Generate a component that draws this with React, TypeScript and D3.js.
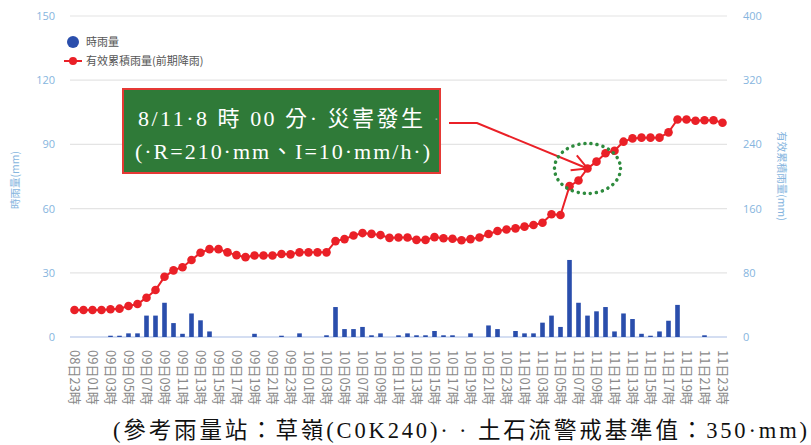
import React from "react";
import * as d3 from "d3";

// ---- data ----
const dayStart = 8;
const hourStart = 23;
const categories: string[] = Array.from({ length: 73 }, (_, i) => {
  const total = hourStart + i;
  const d = dayStart + Math.floor(total / 24);
  const h = total % 24;
  return `${String(d).padStart(2, "0")}日${String(h).padStart(2, "0")}時`;
});

const hourlyRain: number[] = [
  0, 0, 0, 0, 0.6, 0.6, 1.7, 1.7, 10, 10, 16, 6.5, 1.5, 11, 7.8, 2.6,
  0, 0, 0, 0, 1.5, 0, 0, 0.6, 0, 1.7, 0, 0, 0.8, 14, 3.7, 3.7, 4.7, 0.8,
  1.7, 0, 0.8, 1.7, 0.8, 0.8, 2.8, 0.8, 0.8, 0, 1.7, 0, 5.4, 3.7, 0, 2.8,
  1.7, 1.7, 6.7, 10, 4.7, 36, 16, 10, 12, 14, 2.6, 11, 8.4, 1.5, 0.6, 2.6,
  7.6, 15, 0, 0, 0.8, 0, 0,
];

const effectiveCum: number[] = [
  33.6, 33.6, 33.6, 33.6, 34.5, 35.3, 38.6, 41.1, 49, 58.6, 75, 83, 87, 96,
  105, 109.5, 109.5, 105.5, 102, 99.5, 101.5, 101.5, 101.5, 103.5, 103,
  105.5, 105.5, 105.5, 105.5, 119.5, 122, 126.5, 129.5, 128.5, 127, 123.5,
  124, 124, 121, 121, 124.5, 123, 122.5, 120.5, 122, 124, 128.3, 132, 134,
  135.4, 137.5, 139.6, 142.4, 152.9, 152, 188, 195, 210, 218.5, 229, 232,
  243.4, 247.5, 248.4, 248.4, 248.4, 255, 271, 271, 269.5, 270, 270, 267,
];

const leftTicks: number[] = [0, 30, 60, 90, 120, 150];
const rightTicks: number[] = [0, 80, 160, 240, 320, 400];

const legendLabels = ["時雨量", "有效累積雨量(前期降雨)"];
const leftTitle = "時雨量(mm)";
const rightTitle = "有效累積雨量(mm)";
const noteLine1 = "8/11·8 時 00 分· 災害發生";
const noteLine2 = "(·R=210·mm、I=10·mm/h·)";
const caption = "(參考雨量站：草嶺(C0K240)·  · 土石流警戒基準值：350·mm)";
const eventIndex = 57;

const W = 811;
const H = 445;
const plot = { left: 70, right: 727, top: 16, bottom: 337 };

const sans = "'Open Sans', 'Noto Sans CJK TC', sans-serif";
const cjk = "'Noto Sans CJK TC', 'Noto Sans', sans-serif";
const serif = "'Liberation Serif', 'DejaVu Serif', 'Noto Sans CJK TC', serif";

export default function App() {
  const x = d3
    .scaleBand<string>()
    .domain(categories)
    .range([plot.left, plot.right])
    .paddingInner(0)
    .paddingOuter(0);
  const yL = d3.scaleLinear().domain([0, 150]).range([plot.bottom, plot.top]);
  const yR = d3.scaleLinear().domain([0, 400]).range([plot.bottom, plot.top]);
  const cx = (c: string) => (x(c) as number) + x.bandwidth() / 2;
  const barW = 4.6;

  const line = d3
    .line<number>()
    .x((_, i) => cx(categories[i]))
    .y((d) => yR(d));

  const ex = cx(categories[eventIndex]);
  const ey = yR(effectiveCum[eventIndex]);

  const tip = [ex, ey];
  const start = [449, 123];
  const knee = [477, 123];
  const ang = Math.atan2(tip[1] - knee[1], tip[0] - knee[0]);
  const ah = 17;
  const w1 = [tip[0] - ah * Math.cos(ang - 0.5), tip[1] - ah * Math.sin(ang - 0.5)];
  const w2 = [tip[0] - ah * Math.cos(ang + 0.5), tip[1] - ah * Math.sin(ang + 0.5)];

  return (
    <svg
      width={W}
      height={H}
      style={{ position: "absolute", left: 0, top: 0, background: "#fff" }}
    >
      <rect x={0} y={0} width={W} height={H} fill="#fff" />
      {/* grid */}
      {leftTicks.map((t) => (
        <line
          key={"g" + t}
          x1={plot.left}
          x2={plot.right}
          y1={yL(t)}
          y2={yL(t)}
          stroke={t === 0 ? "#a9bde6" : "#e4e4e4"}
          strokeWidth={1.2}
        />
      ))}
      {/* left ticks */}
      {leftTicks.map((t) => (
        <text
          key={"l" + t}
          x={55}
          y={yL(t) + 4}
          textAnchor="end"
          fontFamily={sans}
          fontSize={11}
          fill="#86b5de"
        >
          {t}
        </text>
      ))}
      {rightTicks.map((t) => (
        <text
          key={"r" + t}
          x={743}
          y={yR(t) + 4}
          textAnchor="start"
          fontFamily={sans}
          fontSize={11}
          fill="#86b5de"
        >
          {t}
        </text>
      ))}
      <text
        transform={`translate(19,180) rotate(-90)`}
        textAnchor="middle"
        fontFamily={cjk}
        fontSize={10.5}
        fill="#86b5de"
      >
        {leftTitle}
      </text>
      <text
        transform={`translate(778,176) rotate(90)`}
        textAnchor="middle"
        fontFamily={cjk}
        fontSize={10.5}
        fill="#86b5de"
      >
        {rightTitle}
      </text>

      {/* bars */}
      {hourlyRain.map((v, i) =>
        v > 0 ? (
          <rect
            key={"b" + i}
            x={cx(categories[i]) - barW / 2}
            y={yL(v)}
            width={barW}
            height={yL(0) - yL(v)}
            fill="#2a4eac"
          />
        ) : null
      )}

      {/* line */}
      <path d={line(effectiveCum) || ""} fill="none" stroke="#ea2027" strokeWidth={2} />
      {effectiveCum.map((v, i) => (
        <circle key={"p" + i} cx={cx(categories[i])} cy={yR(v)} r={4.3} fill="#ea2027" />
      ))}

      {/* x labels */}
      {categories.map((c, i) =>
        i % 2 === 0 ? (
          <text
            key={"x" + i}
            transform={`translate(${cx(c) - 4.5},350) rotate(90)`}
            textAnchor="start"
            fontFamily={cjk}
            fontSize={13}
            fill="#8a8a8a"
          >
            {c}
          </text>
        ) : null
      )}

      {/* legend */}
      <circle cx={73} cy={42} r={6} fill="#2a4eac" />
      <text x={86} y={46} fontFamily={cjk} fontSize={11} fill="#555">
        {legendLabels[0]}
      </text>
      <line x1={64} x2={82} y1={61} y2={61} stroke="#ea2027" strokeWidth={2} />
      <circle cx={73} cy={61} r={4} fill="#ea2027" />
      <text x={86} y={65} fontFamily={cjk} fontSize={11} fill="#555">
        {legendLabels[1]}
      </text>

      {/* annotation box */}
      <rect x={123} y={89} width={317} height={84} fill="#2f7a38" stroke="#e53935" strokeWidth={2} />
      <text
        x={138}
        y={126}
        fontFamily={serif}
        fontSize={22}
        fill="#fff"
        textLength={285}
        lengthAdjust="spacing"
      >
        {noteLine1}
      </text>
      <text x={434} y={124} fontFamily={serif} fontSize={14} fill="#9bb59b">
        ·
      </text>
      <text
        x={135}
        y={159}
        fontFamily={serif}
        fontSize={22}
        fill="#fff"
        textLength={295}
        lengthAdjust="spacing"
      >
        {noteLine2}
      </text>

      {/* arrow */}
      <path
        d={`M${start[0]},${start[1]}L${knee[0]},${knee[1]}L${tip[0]},${tip[1]}`}
        fill="none"
        stroke="#ea2027"
        strokeWidth={2}
      />
      <path
        d={`M${w1[0]},${w1[1]}L${tip[0]},${tip[1]}L${w2[0]},${w2[1]}`}
        fill="none"
        stroke="#ea2027"
        strokeWidth={2}
      />
      {/* dotted ellipse */}
      <ellipse
        cx={ex}
        cy={ey}
        rx={33}
        ry={25}
        fill="none"
        stroke="#2e8b3e"
        strokeWidth={3.5}
        strokeDasharray="0.1 6"
        strokeLinecap="round"
      />

      {/* caption */}
      <text
        x={113}
        y={438}
        fontFamily={serif}
        fontSize={22.5}
        fill="#111"
        textLength={694}
        lengthAdjust="spacing"
      >
        {caption}
      </text>
    </svg>
  );
}
